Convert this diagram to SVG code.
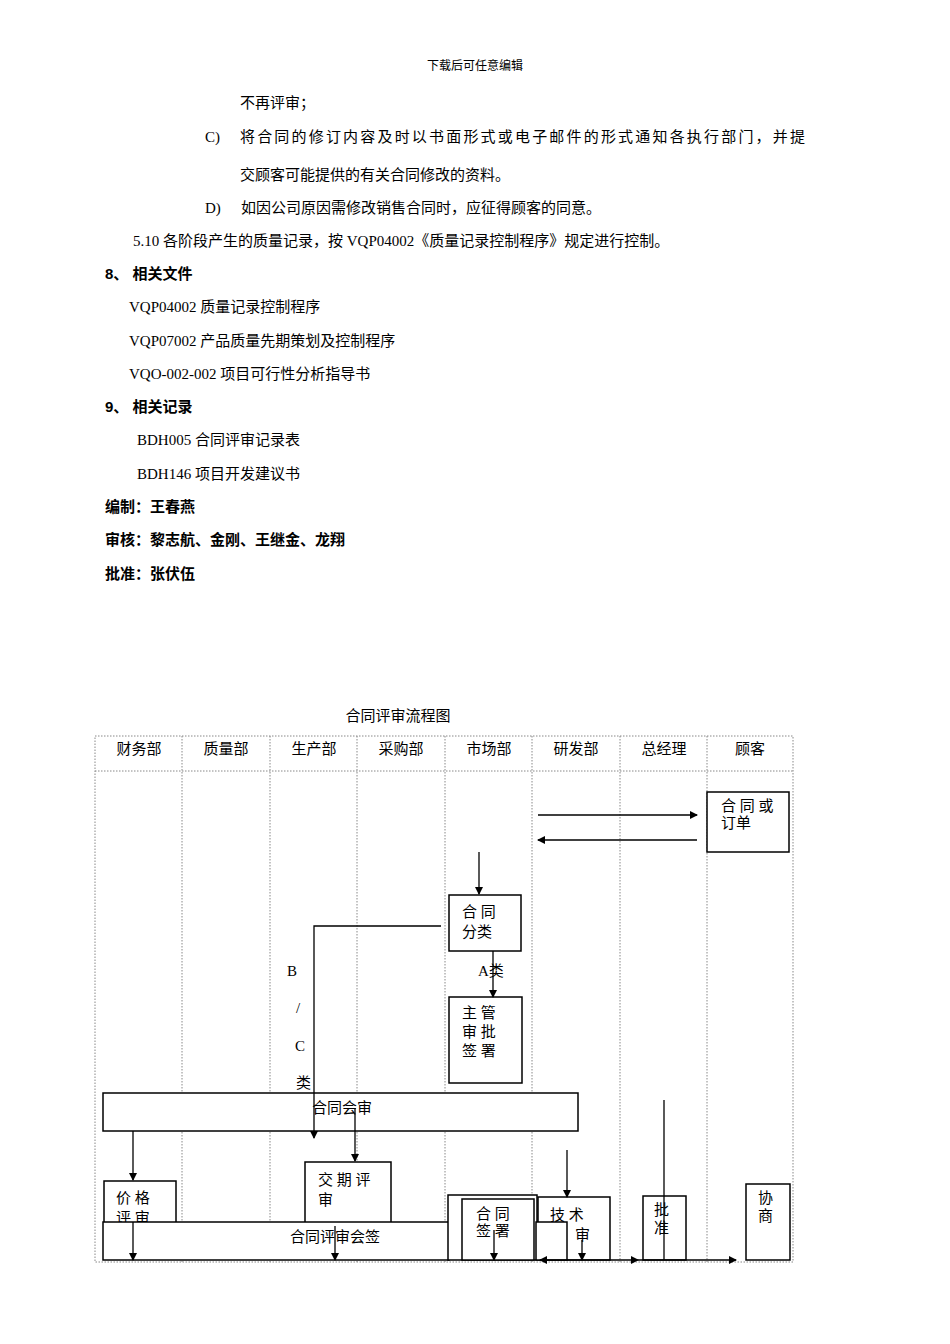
<svg xmlns="http://www.w3.org/2000/svg" width="950" height="1344" viewBox="0 0 950 1344">
<style>
text{font-family:"Liberation Serif","Noto Sans CJK SC",serif;font-size:15px;fill:#000}
.b{font-weight:bold;font-family:"Liberation Sans","Noto Sans CJK SC",sans-serif}
.n{fill:#fff;stroke:#000;stroke-width:1.5}
.d{stroke:#888;stroke-width:1;stroke-dasharray:1.5 1.5;fill:none}
.l{stroke:#000;stroke-width:1.3;fill:none}
.c{text-anchor:middle}
</style>
<defs><marker id="a" markerWidth="8" markerHeight="8" refX="7" refY="4" orient="auto" markerUnits="userSpaceOnUse"><path d="M0,0L8,4L0,8z" fill="#000"/></marker></defs>
<text x="475" y="70" class="c" style="font-size:12px">下载后可任意编辑</text>
<text x="240" y="108">不再评审；</text>
<text x="205" y="142">C)</text>
<text x="240" y="142" textLength="565">将合同的修订内容及时以书面形式或电子邮件的形式通知各执行部门，并提</text>
<text x="240" y="180">交顾客可能提供的有关合同修改的资料。</text>
<text x="205" y="213">D)</text>
<text x="241" y="213">如因公司原因需修改销售合同时，应征得顾客的同意。</text>
<text x="133" y="246">5.10 各阶段产生的质量记录，按 VQP04002《质量记录控制程序》规定进行控制。</text>
<text x="105" y="279" class="b">8、 相关文件</text>
<text x="129" y="312">VQP04002 质量记录控制程序</text>
<text x="129" y="346">VQP07002 产品质量先期策划及控制程序</text>
<text x="129" y="379">VQO-002-002 项目可行性分析指导书</text>
<text x="105" y="412" class="b">9、 相关记录</text>
<text x="137" y="445">BDH005 合同评审记录表</text>
<text x="137" y="479">BDH146 项目开发建议书</text>
<text x="105" y="512" class="b">编制：王春燕</text>
<text x="105" y="545" class="b">审核：黎志航、金刚、王继金、龙翔</text>
<text x="105" y="579" class="b">批准：张伏伍</text>
<text x="398" y="721" class="c">合同评审流程图</text>
<g id="table">
<rect x="95" y="736" width="698" height="526" class="d"/>
<line x1="95" y1="771" x2="793" y2="771" class="d"/>
<path class="d" d="M182,736V1262M270,736V1262M357,736V1262M445,736V1262M532,736V1262M620,736V1262M707,736V1262"/>
<g class="c">
<text x="139" y="754">财务部</text><text x="226" y="754">质量部</text><text x="314" y="754">生产部</text><text x="401" y="754">采购部</text><text x="489" y="754">市场部</text><text x="576" y="754">研发部</text><text x="664" y="754">总经理</text><text x="750" y="754">顾客</text>
</g>
</g>
<g id="n1"><rect x="707" y="792" width="82" height="60" class="n"/><text x="721" y="811">合 同 或</text><text x="721" y="828">订单</text></g>
<g id="n2"><rect x="449" y="895" width="72" height="56" class="n"/><text x="462" y="917">合  同</text><text x="462" y="937">分类</text></g>
<g id="n3"><rect x="449" y="997" width="73" height="86" class="n"/><text x="462" y="1018">主  管</text><text x="462" y="1037">审 批</text><text x="462" y="1056">签 署</text></g>
<g id="n4"><rect x="103" y="1093" width="475" height="38" class="n"/><text x="342" y="1113" class="c">合同会审</text></g>
<g id="n5"><rect x="104" y="1181" width="72" height="45" class="n"/><text x="116" y="1203">价  格</text><text x="116" y="1223">评 审</text></g>
<g id="n6"><rect x="305" y="1162" width="86" height="64" class="n"/><text x="318" y="1185">交 期 评</text><text x="318" y="1205">审</text></g>
<g id="n7"><rect x="103" y="1222" width="346" height="38" class="n"/><text x="335" y="1242" class="c">合同评审会签</text></g>
<g id="n8"><rect x="448" y="1195" width="89" height="65" class="n"/><rect x="462" y="1199" width="72" height="61" class="n"/><text x="476" y="1219">合 同</text><text x="476" y="1236">签 署</text></g>
<g id="n9"><rect x="538" y="1197" width="72" height="63" class="n"/><rect x="536" y="1222" width="31" height="38" class="n"/><text x="550" y="1220">技  术</text><text x="575" y="1240">审</text></g>
<g id="n10"><rect x="643" y="1196" width="43" height="64" class="n"/><text x="654" y="1215">批</text><text x="654" y="1233">准</text></g>
<g id="n11"><rect x="746" y="1184" width="44" height="76" class="n"/><text x="758" y="1203">协</text><text x="758" y="1221">商</text></g>
<g id="connectors">
<line x1="538" y1="815" x2="697" y2="815" class="l" marker-end="url(#a)"/>
<line x1="697" y1="840" x2="538" y2="840" class="l" marker-end="url(#a)"/>
<line x1="479" y1="852" x2="479" y2="894" class="l" marker-end="url(#a)"/>
<line x1="493" y1="951" x2="493" y2="997" class="l" marker-end="url(#a)"/>
<text x="478" y="976">A类</text>
<path d="M441,926H314V1138" class="l" marker-end="url(#a)"/>
<text x="287" y="976">B</text><text x="296" y="1013">/</text><text x="295" y="1051">C</text><text x="296" y="1088">类</text>
<line x1="355" y1="1108" x2="355" y2="1161" class="l" marker-end="url(#a)"/>
<line x1="133" y1="1131" x2="133" y2="1180" class="l" marker-end="url(#a)"/>
<line x1="567" y1="1150" x2="567" y2="1197" class="l" marker-end="url(#a)"/>
<line x1="664" y1="1100" x2="664" y2="1260" class="l"/>
<line x1="133" y1="1222" x2="133" y2="1260" class="l" marker-end="url(#a)"/>
<line x1="335" y1="1226" x2="335" y2="1260" class="l" marker-end="url(#a)"/>
<line x1="494" y1="1230" x2="494" y2="1260" class="l" marker-end="url(#a)"/>
<line x1="582" y1="1240" x2="582" y2="1260" class="l" marker-end="url(#a)"/>
<line x1="580" y1="1260" x2="540" y2="1260" class="l" marker-end="url(#a)"/>
<line x1="580" y1="1260" x2="638" y2="1260" class="l" marker-end="url(#a)"/>
<line x1="638" y1="1260" x2="736" y2="1260" class="l" marker-end="url(#a)"/>
</g>
</svg>
